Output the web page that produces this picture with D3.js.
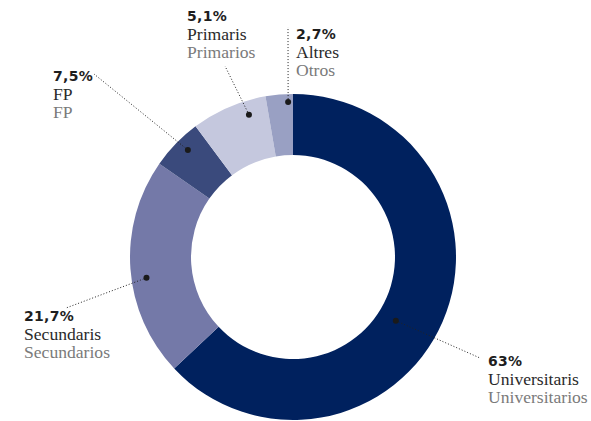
<!DOCTYPE html>
<html>
<head>
<meta charset="utf-8">
<script src="https://cdn.jsdelivr.net/npm/d3@7"></script>
<style>
  html, body { margin: 0; padding: 0; background: #fff; }
  svg { display: block; }
</style>
</head>
<body>
<svg id="chart" width="591" height="421"></svg>
<script>
// ---- data ----
// slices in drawing order (clockwise from 12 o'clock), arc sizes as drawn in the picture
const categories = ["Universitaris", "Secundaris", "FP", "Primaris", "Altres"];
const categoriesEs = ["Universitarios", "Secundarios", "FP", "Primarios", "Otros"];
const sliceValues = [63, 21.7, 5.1, 7.5, 2.7];
const valueLabels = ["63%", "21,7%", "7,5%", "5,1%", "2,7%"];

// ---- styling / layout ----
const colors = ["#00215e", "#7479a8", "#3a4a7c", "#c5c8de", "#99a0c3"];
const cx = 293, cy = 257, outerR = 163, innerR = 102;
// dot placement (degrees clockwise from top, radius) and label anchors
const dotPolar = [[121.8, 121], [261.9, 148], [315.5, 150], [342.8, 149], [358.2, 155]];
const lineEnds = [[480, 358], [66, 308], [94, 74], [225, 66], [288, 27]];
const textPos = [[488, 366], [24, 321], [53, 81], [187, 21], [296, 39]];
const lineGap = 18.5;

const svg = d3.select("#chart");
const g = svg.append("g").attr("transform", `translate(${cx},${cy})`);

const pie = d3.pie().sort(null).value(d => d.v).startAngle(0).endAngle(2 * Math.PI);
const arc = d3.arc().innerRadius(innerR).outerRadius(outerR);
const data = sliceValues.map((v, i) => ({ v, i }));

g.selectAll("path.slice")
  .data(pie(data))
  .join("path")
  .attr("class", "slice")
  .attr("d", arc)
  .attr("fill", d => colors[d.data.i]);

const toXY = (deg, r) => {
  const a = deg * Math.PI / 180;
  return [cx + r * Math.sin(a), cy - r * Math.cos(a)];
};

data.forEach((d, i) => {
  const [dx, dy] = toXY(dotPolar[i][0], dotPolar[i][1]);
  svg.append("line")
    .attr("x1", dx).attr("y1", dy)
    .attr("x2", lineEnds[i][0]).attr("y2", lineEnds[i][1])
    .attr("stroke", "#222")
    .attr("stroke-width", 1)
    .attr("stroke-dasharray", "1,2");
  svg.append("circle")
    .attr("cx", dx).attr("cy", dy).attr("r", 3)
    .attr("fill", "#1a1a1a");

  const t = svg.append("g").attr("transform", `translate(${textPos[i][0]},${textPos[i][1]})`);
  t.append("text")
    .attr("font-family", "'DejaVu Sans', sans-serif")
    .attr("font-weight", "bold")
    .attr("font-size", 14)
    .attr("letter-spacing", 0.3)
    .attr("fill", "#1e1e1e")
    .text(valueLabels[i]);
  t.append("text")
    .attr("y", lineGap)
    .attr("font-family", "'Liberation Serif', 'Times New Roman', serif")
    .attr("font-size", 17.6)
    .attr("fill", "#2a2a2a")
    .text(categories[i]);
  t.append("text")
    .attr("y", lineGap * 2)
    .attr("font-family", "'Liberation Serif', 'Times New Roman', serif")
    .attr("font-size", 17.6)
    .attr("fill", "#7a7a7a")
    .text(categoriesEs[i]);
});
</script>
</body>
</html>
